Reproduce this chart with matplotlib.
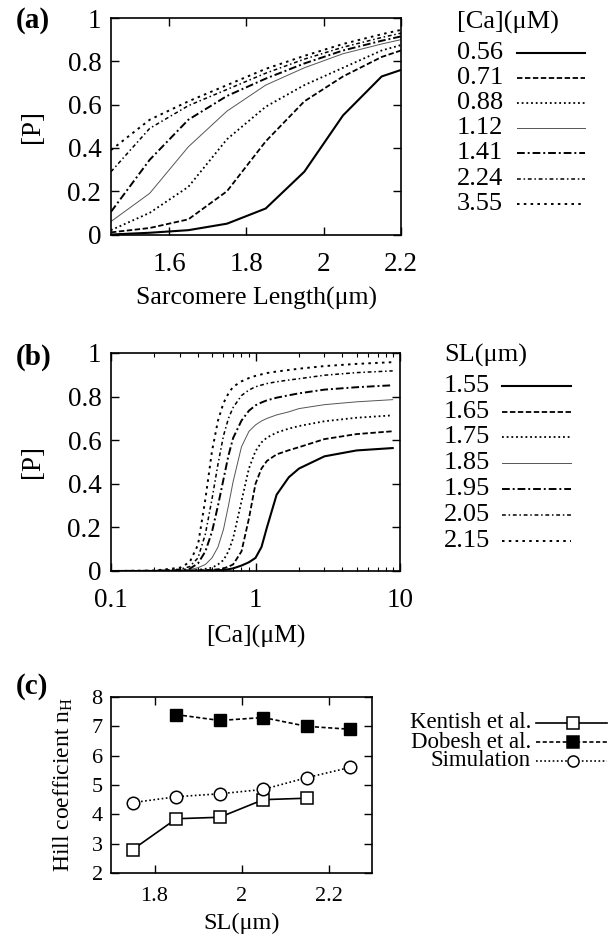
import numpy as np
import matplotlib
matplotlib.use("Agg")
import matplotlib.pyplot as plt
from matplotlib.lines import Line2D
from matplotlib.ticker import FixedLocator, LogLocator, NullFormatter

plt.rcParams['font.family'] = ['Liberation Serif', 'DejaVu Serif']
plt.rcParams['mathtext.fontset'] = 'custom'
plt.rcParams['mathtext.rm'] = 'Liberation Serif'
plt.rcParams['mathtext.it'] = 'Liberation Serif:italic'

# ---- panel (a): P vs sarcomere length, one curve per [Ca]
sl_a = [1.45, 1.55, 1.65, 1.75, 1.85, 1.95, 2.05, 2.15, 2.2]
ca_labels = ['0.56', '0.71', '0.88', '1.12', '1.41', '2.24', '3.55']
p_a = [
    [0.0, 0.008, 0.02, 0.05, 0.12, 0.29, 0.55, 0.73, 0.76],
    [0.01, 0.03, 0.07, 0.2, 0.43, 0.615, 0.73, 0.82, 0.85],
    [0.02, 0.1, 0.22, 0.44, 0.59, 0.69, 0.77, 0.85, 0.875],
    [0.06, 0.19, 0.405, 0.57, 0.69, 0.77, 0.835, 0.88, 0.90],
    [0.105, 0.345, 0.53, 0.64, 0.72, 0.79, 0.85, 0.895, 0.915],
    [0.29, 0.49, 0.595, 0.67, 0.745, 0.81, 0.865, 0.91, 0.93],
    [0.39, 0.53, 0.615, 0.69, 0.765, 0.825, 0.88, 0.925, 0.945],
]

# ---- panel (b): P vs [Ca], one curve per SL
ca_b = [0.1, 0.2, 0.3, 0.35, 0.4, 0.45, 0.5, 0.55, 0.6, 0.65, 0.7, 0.8, 0.9,
        1.0, 1.1, 1.2, 1.4, 1.7, 2.0, 3.0, 5.0, 8.9]
sl_labels = ['1.55', '1.65', '1.75', '1.85', '1.95', '2.05', '2.15']
p_b = [
    [0, 0, 0, 0.001, 0.001, 0.002, 0.002, 0.003, 0.005, 0.008, 0.012, 0.025, 0.04,
     0.06, 0.11, 0.2, 0.35, 0.43, 0.47, 0.526, 0.553, 0.564],
    [0, 0, 0.001, 0.002, 0.003, 0.004, 0.005, 0.008, 0.012, 0.02, 0.03, 0.09, 0.24,
     0.40, 0.47, 0.505, 0.535, 0.554, 0.568, 0.605, 0.628, 0.641],
    [0, 0, 0.002, 0.003, 0.005, 0.01, 0.015, 0.03, 0.05, 0.09, 0.15, 0.32, 0.47,
     0.55, 0.59, 0.612, 0.635, 0.653, 0.665, 0.687, 0.703, 0.714],
    [0, 0, 0.003, 0.006, 0.015, 0.03, 0.06, 0.11, 0.19, 0.30, 0.41, 0.57, 0.64,
     0.67, 0.688, 0.70, 0.716, 0.73, 0.745, 0.763, 0.776, 0.786],
    [0, 0.001, 0.004, 0.01, 0.035, 0.09, 0.18, 0.30, 0.42, 0.53, 0.61, 0.69, 0.735,
     0.76, 0.773, 0.783, 0.795, 0.806, 0.815, 0.832, 0.843, 0.852],
    [0, 0.001, 0.008, 0.02, 0.06, 0.17, 0.33, 0.49, 0.62, 0.70, 0.75, 0.805, 0.83,
     0.845, 0.853, 0.86, 0.868, 0.876, 0.882, 0.898, 0.91, 0.918],
    [0, 0.002, 0.015, 0.04, 0.12, 0.33, 0.55, 0.69, 0.77, 0.815, 0.845, 0.87, 0.885,
     0.895, 0.902, 0.908, 0.915, 0.922, 0.928, 0.94, 0.95, 0.958],
]

# ---- panel (c): Hill coefficient vs SL
kentish_sl = [1.75, 1.85, 1.95, 2.05, 2.15]
kentish_nh = [2.8, 3.85, 3.9, 4.5, 4.55]
dobesh_sl = [1.85, 1.95, 2.05, 2.15, 2.25]
dobesh_nh = [7.4, 7.2, 7.3, 7.0, 6.9]
sim_sl = [1.75, 1.85, 1.95, 2.05, 2.15, 2.25]
sim_nh = [4.4, 4.6, 4.7, 4.85, 5.25, 5.6]

# gnuplot-like line types 1..7
styles = [
    dict(ls='-', lw=1.5, color='black'),
    dict(ls=(0, (3, 1.4)), lw=1.3, color='black'),
    dict(ls=(0, (1, 1.6)), lw=1.3, color='black'),
    dict(ls='-', lw=0.7, color='#555555'),
    dict(ls=(0, (4, 1.5, 1, 1.5)), lw=1.4, color='black'),
    dict(ls=(0, (2.5, 1.8, 1, 1.8)), lw=1.1, color='black'),
    dict(ls=(0, (1.3, 2.2)), lw=1.4, color='black'),
]

W, H = 613, 940
fig = plt.figure(figsize=(W / 100, H / 100), dpi=100)

TICK = 19.5
LAB = 18.5
LEG = 19


def fx(x):
    return x / W


def fy(y):
    return 1 - y / H


def style_axes(ax, size=TICK, xpad=12.5):
    ax.tick_params(direction='in', top=True, right=True, length=6, width=1,
                   labelsize=size, pad=7)
    ax.tick_params(axis='x', pad=xpad)
    ax.tick_params(which='minor', direction='in', top=True, right=True,
                   length=3, width=0.8)
    for s in ax.spines.values():
        s.set_linewidth(1.2)


def legend_block(title, labels, x_text, x0, x1, ys, y_title):
    fig.text(fx(x_text), fy(y_title), title, fontsize=LEG, va='center', ha='left')
    for lab, y, st in zip(labels, ys, styles):
        fig.text(fx(x_text), fy(y), lab, fontsize=LEG, va='center', ha='left')
        fig.add_artist(Line2D([fx(x0), fx(x1)], [fy(y), fy(y)],
                              transform=fig.transFigure, **st))


# (a)
ax_a = fig.add_axes([fx(111), fy(234.5), (401 - 111) / W, (234.5 - 18) / H])
for ys, st in zip(p_a, styles):
    ax_a.plot(sl_a, ys, **st)
ax_a.set_xlim(1.45, 2.2)
ax_a.set_ylim(0, 1)
ax_a.set_xticks([1.6, 1.8, 2.0, 2.2])
ax_a.set_xticklabels(['1.6', '1.8', '2', '2.2'])
ax_a.set_yticks([0, 0.2, 0.4, 0.6, 0.8, 1.0])
ax_a.set_yticklabels(['0', '0.2', '0.4', '0.6', '0.8', '1'])
style_axes(ax_a)
ax_a.set_xlabel('Sarcomere Length(\u03bcm)', fontsize=LAB, labelpad=7)
ax_a.set_ylabel('[P]', fontsize=LAB + 1, labelpad=16)
fig.text(fx(16), fy(21), '(a)', fontsize=21, fontweight='bold', va='center')
legend_block('[Ca](\u03bcM)', ca_labels, 457, 517, 585,
             [52.7, 77.7, 102.7, 127.5, 153, 179, 204], 22)

# (b)
ax_b = fig.add_axes([fx(111), fy(571), (400 - 111) / W, (571 - 353) / H])
for ys, st in zip(p_b, styles):
    ax_b.plot(ca_b, ys, **st)
ax_b.set_xscale('log')
ax_b.set_xlim(0.1, 10)
ax_b.set_ylim(0, 1)
ax_b.xaxis.set_major_locator(FixedLocator([0.1, 1, 10]))
ax_b.set_xticklabels(['0.1', '1', '10'])
ax_b.xaxis.set_minor_locator(LogLocator(base=10, subs=np.arange(2, 10)))
ax_b.xaxis.set_minor_formatter(NullFormatter())
ax_b.set_yticks([0, 0.2, 0.4, 0.6, 0.8, 1.0])
ax_b.set_yticklabels(['0', '0.2', '0.4', '0.6', '0.8', '1'])
style_axes(ax_b)
ax_b.set_xlabel('[Ca](\u03bcM)', fontsize=LAB, labelpad=8)
ax_b.set_ylabel('[P]', fontsize=LAB + 1, labelpad=16)
fig.text(fx(16), fy(357), '(b)', fontsize=21, fontweight='bold', va='center')
legend_block('SL(\u03bcm)', sl_labels, 444, 502, 571,
             [386, 411.7, 437.3, 463.3, 489, 515, 541], 355)

# (c)
ax_c = fig.add_axes([fx(111), fy(873), (372 - 111) / W, (873 - 697) / H])
ax_c.plot(kentish_sl, kentish_nh, '-', color='black', lw=1.2, marker='s',
          ms=9, mfc='white', mec='black', mew=1.1)
ax_c.plot(dobesh_sl, dobesh_nh, ls=(0, (2.5, 1.5)), color='black', lw=1.2,
          marker='s', ms=9, mfc='black', mec='black')
ax_c.plot(sim_sl, sim_nh, ls=(0, (1, 1.5)), color='black', lw=1.2, marker='o',
          ms=9, mfc='white', mec='black', mew=1.1)
ax_c.set_xlim(1.7, 2.3)
ax_c.set_ylim(2, 8)
ax_c.set_xticks([1.8, 2.0, 2.2])
ax_c.set_xticklabels(['1.8', '2', '2.2'])
ax_c.set_yticks(range(2, 9))
style_axes(ax_c, size=16, xpad=10)
ax_c.tick_params(axis='y', pad=6)
ax_c.set_xlabel('SL(\u03bcm)', fontsize=17.5, labelpad=5)
ax_c.set_ylabel(r'Hill coefficient n$_\mathrm{H}$', fontsize=17, labelpad=12)
fig.text(fx(16), fy(686), '(c)', fontsize=21, fontweight='bold', va='center')

leg_c = [
    ('Kentish et al.', dict(ls='-', marker='s', mfc='white')),
    ('Dobesh et al.', dict(ls=(0, (2.5, 1.5)), marker='s', mfc='black')),
    ('Simulation', dict(ls=(0, (1, 1.5)), marker='o', mfc='white')),
]
for (lab, st), y in zip(leg_c, [723, 742, 761]):
    fig.text(fx(531), fy(y), lab, fontsize=16.5, va='center', ha='right')
    fig.add_artist(Line2D([fx(536), fx(573), fx(607)], [fy(y)] * 3,
                          transform=fig.transFigure, color='black', lw=1.2,
                          markevery=[1], ms=8, mec='black', mew=1.1, **st))

fig.savefig('out.png', dpi=100)
